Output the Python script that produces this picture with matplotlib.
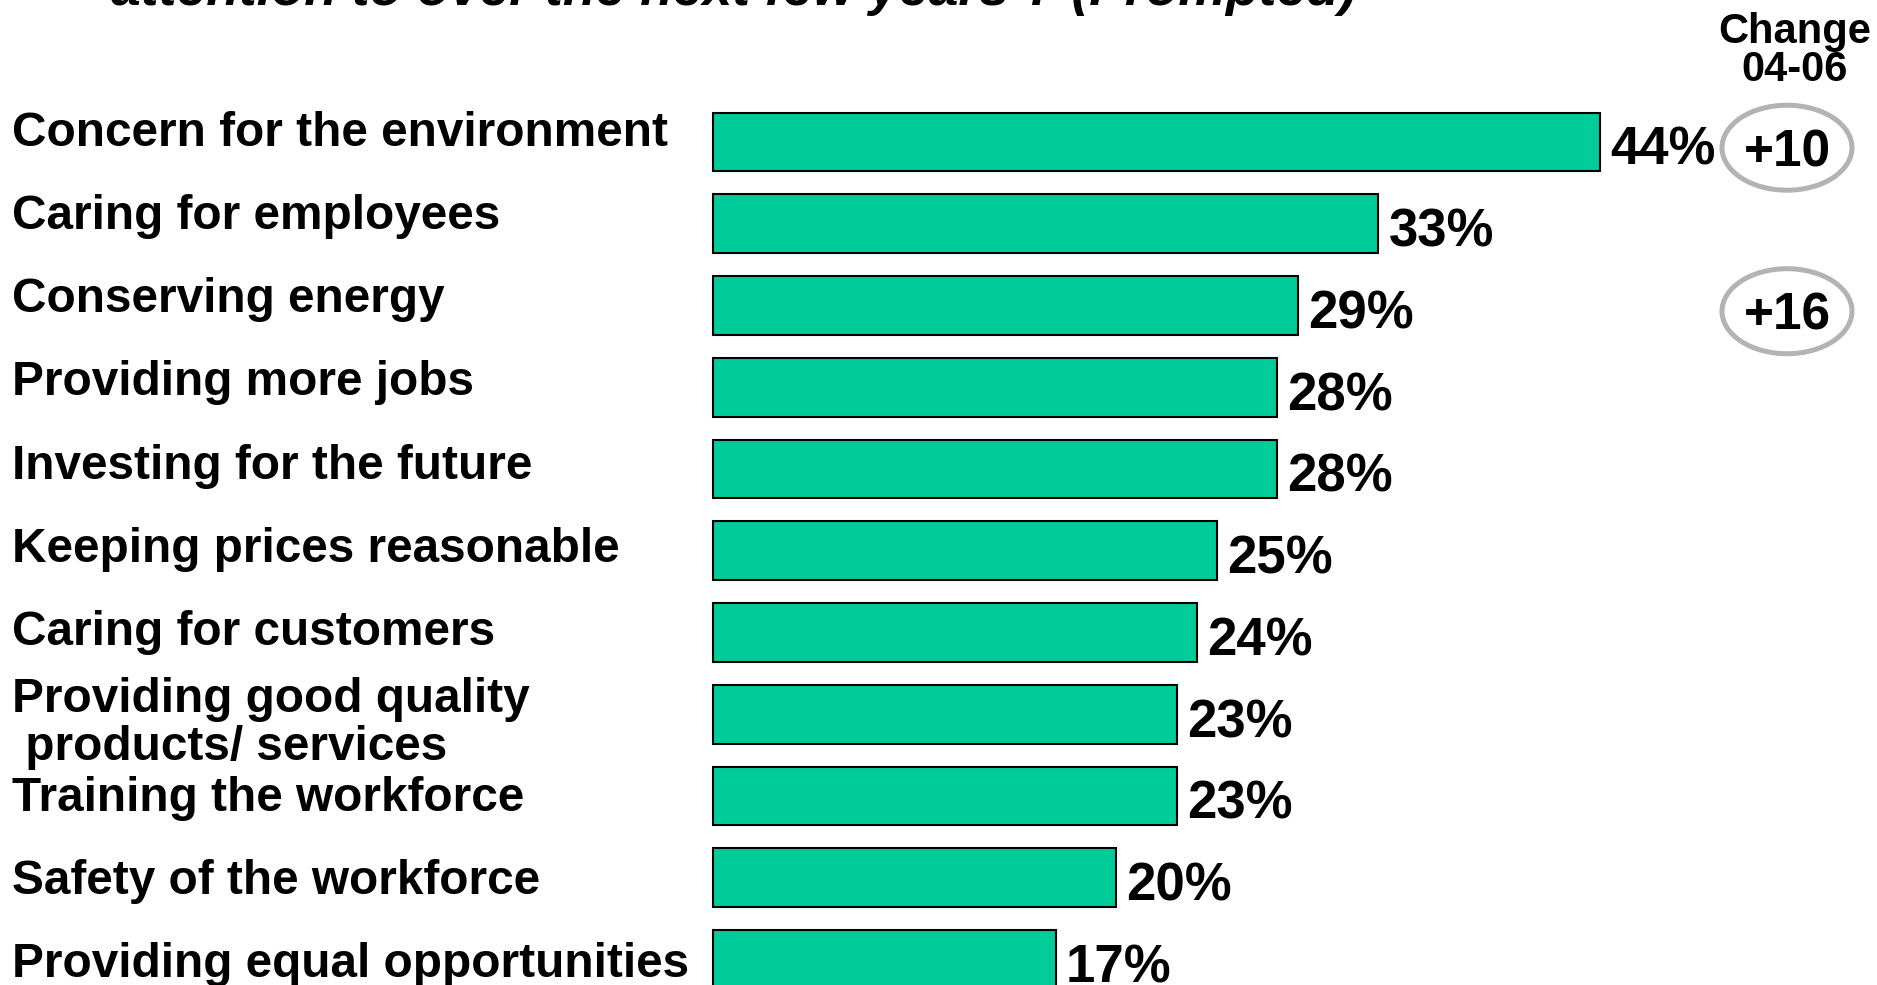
import matplotlib.pyplot as plt
from matplotlib.patches import Ellipse

categories = [
    'Concern for the environment',
    'Caring for employees',
    'Conserving energy',
    'Providing more jobs',
    'Investing for the future',
    'Keeping prices reasonable',
    'Caring for customers',
    'Providing good quality\n products/ services',
    'Training the workforce',
    'Safety of the workforce',
    'Providing equal opportunities',
]
values = [44, 33, 29, 28, 28, 25, 24, 23, 23, 20, 17]
changes = ['+10', '', '+16', '', '', '', '', '', '', '', '']

W, H = 1877, 985
plt.rcParams['font.family'] = ['Liberation Sans', 'DejaVu Sans']
plt.rcParams['font.weight'] = 'bold'

fig = plt.figure(figsize=(W / 100, H / 100), dpi=100)
ax = fig.add_axes([0, 0, 1, 1])
ax.axis('off')

# pixel layout: bars start at x=713, 20.16 px per %, rows every 81.75 px from y=142
px_per_pct = 20.16
x0 = 713
row_h = 81.75
y0 = 142
ax.set_xlim(-x0 / px_per_pct, (W - x0) / px_per_pct)
ax.set_ylim((H - y0) / row_h, -y0 / row_h)

rows = list(range(len(values)))
ax.barh(rows, values, height=0.72, color='#00CC99', edgecolor='black', linewidth=1.5)

for i, v in enumerate(values):
    ax.text(v + 0.5, i + 0.11, f'{v}%', fontsize=38, fontweight='bold',
            va='center', ha='left')

ytrans = ax.get_yaxis_transform()
for i, lab in enumerate(categories):
    dy = 0.1 if '\n' in lab else 0.0
    ax.text(12 / W, -0.10 + i * 1.016 + dy, lab, transform=ytrans, fontsize=34.4,
            fontweight='bold', va='center', ha='left', linespacing=1.08)

cx = (1787 - x0) / px_per_pct
for i, c in enumerate(changes):
    if not c:
        continue
    ax.add_patch(Ellipse((cx, i + 0.07), 130 / px_per_pct, 85 / row_h,
                         facecolor='none', edgecolor='#b3b3b3', linewidth=3.6,
                         zorder=3))
    ax.text(cx, i + 0.13, c, fontsize=37, fontweight='bold', ha='center',
            va='center', zorder=4)

fig.text(1795 / W, 1 - 51 / H, 'Change\n04-06', fontsize=30, fontweight='bold',
         ha='center', va='center', linespacing=0.95)

fig.text(111 / W, 1 - 5 / H, 'attention to over the next few years ? (Prompted)',
         fontsize=38.5, fontweight='bold', fontstyle='italic', ha='left',
         va='baseline')

fig.savefig('out.png', dpi=100)
